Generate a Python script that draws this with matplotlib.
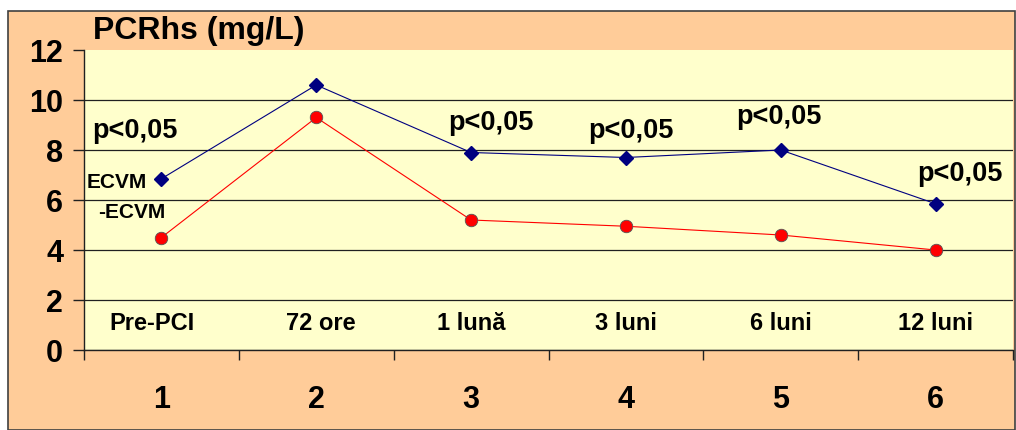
import numpy as np
import matplotlib.pyplot as plt
from matplotlib.patches import Rectangle
from matplotlib.ticker import FixedLocator

plt.rcParams['font.family'] = ['Liberation Sans', 'DejaVu Sans']
plt.rcParams['font.weight'] = 'bold'

#Data
x = [1, 2, 3, 4, 5, 6]
ecvm = [6.85, 10.6, 7.9, 7.7, 8.0, 5.85]
no_ecvm = [4.5, 9.3, 5.2, 4.95, 4.6, 4.0]
periods = ['Pre-PCI', '72 ore', '1 lună', '3 luni', '6 luni', '12 luni']
yticks = [0, 2, 4, 6, 8, 10, 12]

#p-value annotation positions (x, y)
p_pos = [(0.83, 8.75), (3.13, 9.1), (4.03, 8.75), (4.99, 9.3), (6.16, 7.05)]

fig = plt.figure(figsize=(10.16, 4.3), dpi=100)
fig.patch.set_facecolor('white')

#outer orange frame
fig.patches.append(Rectangle((8/1016, 0), 1 - 9/1016, 1 - 11/430,
                             transform=fig.transFigure, facecolor='#FFCC99',
                             edgecolor='#404040', linewidth=1.2, zorder=-5))

ax = fig.add_axes([84/1016, 80/430, 929/1016, 300/430])
ax.set_facecolor('#FFFFCC')

ax.plot(x, ecvm, color='#000080', lw=0.8, marker='D', ms=7,
        mfc='#000080', mec='#000080', zorder=3)
ax.plot(x, no_ecvm, color='#FF0000', lw=0.8, marker='o', ms=9,
        mfc='#FF0000', mec='#555555', mew=0.6, zorder=3)

ax.set_xlim(0.5, 6.5)
ax.set_ylim(0, 12)

#y axis
ax.set_yticks(yticks)
ax.tick_params(axis='y', length=8, width=1, color='#202020', pad=7, labelsize=22)
ax.yaxis.grid(True, color='#202020', lw=0.9)
ax.yaxis.get_gridlines()[-1].set_visible(False)
ax.set_axisbelow(True)

#x axis
ax.set_xticks(x)
ax.set_xticklabels([str(v) for v in x])
ax.xaxis.set_minor_locator(FixedLocator(np.arange(0.5, 7, 1.0)))
ax.tick_params(axis='x', which='major', length=0, pad=25, labelsize=22)
ax.tick_params(axis='x', which='minor', length=7, width=1, color='#202020')

for s in ['top', 'right']:
    ax.spines[s].set_visible(False)
for s in ['left', 'bottom']:
    ax.spines[s].set_color('#202020')
    ax.spines[s].set_linewidth(1)

#category names inside plot
offs = [-0.06, 0.03, 0, 0, 0, 0]
for i, lab in enumerate(periods):
    ax.text(x[i] + offs[i], 1.08, lab, ha='center', va='center', fontsize=17)

for px, py in p_pos:
    ax.text(px, py, 'p<0,05', ha='center', va='center', fontsize=19.5)

ax.text(0.71, 6.7, 'ECVM', ha='center', va='center', fontsize=15)
ax.text(0.81, 5.5, '-ECVM', ha='center', va='center', fontsize=15)

fig.text(93/1016, 1 - 31/430, 'PCRhs (mg/L)', ha='left', va='center', fontsize=23)

fig.savefig('out.png', dpi=100)
